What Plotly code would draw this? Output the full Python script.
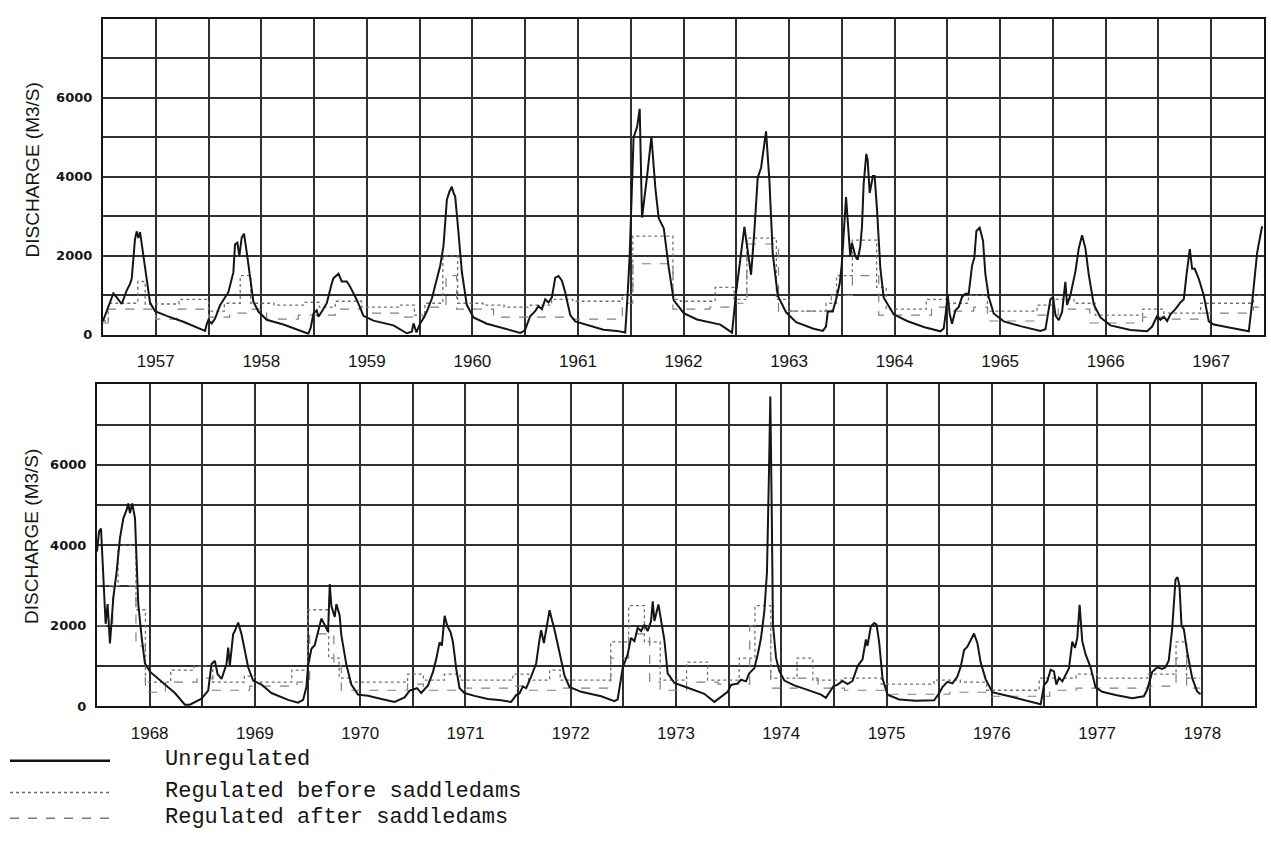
import plotly.graph_objects as go

# ---------------- data ----------------
YEARS_TOP = [1957, 1958, 1959, 1960, 1961, 1962, 1963, 1964, 1965, 1966, 1967]
YEARS_BOT = [1968, 1969, 1970, 1971, 1972, 1973, 1974, 1975, 1976, 1977, 1978]
Y_GRID = [0, 1000, 2000, 3000, 4000, 5000, 6000, 7000, 8000]
Y_LABELS = ["0", "", "2000", "", "4000", "", "6000", "", ""]
Y_TITLE = "DISCHARGE (M3/S)"
LEGEND_NAMES = ["Unregulated", "Regulated before saddledams", "Regulated after saddledams"]

# Unregulated discharge, (decimal year, m3/s)
UNREG_TOP = [
    (1957.000, 350), (1957.035, 620), (1957.098, 1050), (1957.130, 950), (1957.177, 780),
    (1957.224, 1120), (1957.256, 1290), (1957.272, 1420), (1957.303, 2420), (1957.319, 2620),
    (1957.335, 2450), (1957.351, 2600), (1957.382, 2050), (1957.414, 1390), (1957.446, 810),
    (1957.493, 600), (1957.603, 480), (1957.761, 330), (1957.919, 140), (1957.967, 100),
    (1957.983, 270), (1957.998, 370), (1958.030, 290), (1958.062, 410), (1958.109, 750),
    (1958.156, 960), (1958.188, 1080), (1958.235, 1580), (1958.251, 2290), (1958.273, 2330),
    (1958.292, 2000), (1958.314, 2460), (1958.336, 2560), (1958.362, 2090), (1958.393, 1420),
    (1958.425, 840), (1958.472, 590), (1958.551, 380), (1958.709, 260), (1958.867, 100),
    (1958.946, 30), (1958.968, 180), (1958.994, 540), (1959.025, 620), (1959.041, 460),
    (1959.073, 590), (1959.120, 800), (1959.167, 1300), (1959.183, 1430), (1959.215, 1510),
    (1959.231, 1550), (1959.262, 1350), (1959.310, 1350), (1959.341, 1220), (1959.404, 890),
    (1959.468, 480), (1959.562, 360), (1959.752, 240), (1959.878, 40), (1959.926, 80),
    (1959.942, 290), (1959.970, 60), (1960.005, 290), (1960.036, 420), (1960.068, 590),
    (1960.116, 920), (1960.163, 1420), (1960.195, 1750), (1960.226, 2250), (1960.258, 3420),
    (1960.283, 3630), (1960.305, 3750), (1960.321, 3590), (1960.337, 3500), (1960.368, 2590),
    (1960.400, 1590), (1960.447, 760), (1960.510, 440), (1960.637, 280), (1960.795, 170),
    (1960.953, 50), (1960.984, 90), (1961.000, 130), (1961.047, 470), (1961.095, 600),
    (1961.126, 730), (1961.158, 650), (1961.190, 900), (1961.221, 820), (1961.253, 950),
    (1961.285, 1450), (1961.316, 1490), (1961.348, 1370), (1961.379, 1080), (1961.427, 500),
    (1961.474, 340), (1961.584, 260), (1961.742, 130), (1961.869, 100), (1961.948, 60),
    (1961.970, 1000), (1961.990, 2000), (1962.027, 5000), (1962.060, 5260), (1962.085, 5720),
    (1962.107, 2970), (1962.155, 4020), (1962.196, 5020), (1962.234, 3700), (1962.265, 2950),
    (1962.313, 2700), (1962.360, 1710), (1962.407, 880), (1962.502, 550), (1962.628, 390),
    (1962.849, 260), (1962.960, 55), (1962.998, 1060), (1963.077, 2730), (1963.109, 2060),
    (1963.140, 1520), (1963.172, 2650), (1963.203, 3980), (1963.235, 4230), (1963.282, 5150),
    (1963.314, 3900), (1963.345, 2070), (1963.393, 990), (1963.472, 570), (1963.567, 320),
    (1963.725, 160), (1963.820, 100), (1963.850, 210), (1963.867, 590), (1963.914, 590),
    (1963.946, 900), (1963.980, 1300), (1964.000, 1800), (1964.040, 3490), (1964.080, 1990),
    (1964.096, 2330), (1964.128, 1990), (1964.150, 1900), (1964.175, 2240), (1964.191, 2740),
    (1964.207, 3830), (1964.232, 4580), (1964.245, 4420), (1964.264, 3590), (1964.295, 4020),
    (1964.311, 4020), (1964.333, 3190), (1964.365, 1690), (1964.397, 940), (1964.491, 520),
    (1964.618, 350), (1964.776, 200), (1964.934, 90), (1964.965, 160), (1964.984, 530),
    (1965.003, 1030), (1965.022, 530), (1965.044, 280), (1965.076, 620), (1965.107, 700),
    (1965.139, 960), (1965.171, 1040), (1965.202, 1040), (1965.234, 1750), (1965.256, 1960),
    (1965.275, 2630), (1965.306, 2710), (1965.338, 2380), (1965.360, 1540), (1965.392, 960),
    (1965.439, 540), (1965.534, 340), (1965.692, 220), (1965.882, 100), (1965.929, 140),
    (1965.976, 900), (1966.002, 950), (1966.024, 490), (1966.055, 370), (1966.087, 580),
    (1966.118, 1340), (1966.134, 760), (1966.166, 1010), (1966.213, 1600), (1966.245, 2190),
    (1966.276, 2520), (1966.308, 2190), (1966.340, 1520), (1966.387, 770), (1966.450, 440),
    (1966.545, 240), (1966.735, 120), (1966.893, 90), (1966.940, 210), (1966.987, 470),
    (1967.019, 380), (1967.051, 460), (1967.082, 350), (1967.114, 520), (1967.161, 650),
    (1967.208, 820), (1967.240, 900), (1967.265, 1500), (1967.297, 2170), (1967.319, 1670),
    (1967.344, 1670), (1967.382, 1420), (1967.429, 1000), (1967.477, 340), (1967.524, 260),
    (1967.682, 180), (1967.856, 90), (1967.888, 830), (1967.935, 2080), (1967.982, 2750),
]

UNREG_BOT = [
    (1968.000, 3850), (1968.019, 4340), (1968.038, 4420), (1968.060, 3030), (1968.082, 2050),
    (1968.101, 2540), (1968.123, 1560), (1968.155, 2700), (1968.187, 3360), (1968.218, 4180),
    (1968.250, 4670), (1968.281, 4880), (1968.297, 5040), (1968.313, 4800), (1968.335, 5040),
    (1968.361, 4670), (1968.376, 3690), (1968.392, 2540), (1968.424, 1720), (1968.455, 1070),
    (1968.503, 860), (1968.614, 610), (1968.740, 330), (1968.835, 40), (1968.882, 40),
    (1968.993, 190), (1969.056, 390), (1969.088, 1050), (1969.120, 1130), (1969.145, 800),
    (1969.183, 680), (1969.230, 1050), (1969.246, 1460), (1969.262, 1010), (1969.293, 1790),
    (1969.309, 1870), (1969.341, 2080), (1969.373, 1790), (1969.404, 1380), (1969.436, 970),
    (1969.483, 640), (1969.562, 540), (1969.657, 330), (1969.815, 160), (1969.910, 90),
    (1969.958, 160), (1969.990, 490), (1970.005, 1020), (1970.037, 1430), (1970.068, 1520),
    (1970.100, 1850), (1970.132, 2180), (1970.163, 2020), (1970.195, 1850), (1970.211, 3040),
    (1970.226, 2500), (1970.258, 2220), (1970.274, 2540), (1970.305, 2260), (1970.321, 1770),
    (1970.369, 1030), (1970.416, 540), (1970.479, 290), (1970.574, 260), (1970.701, 180),
    (1970.827, 110), (1970.922, 220), (1970.970, 390), (1971.040, 450), (1971.080, 330),
    (1971.144, 520), (1971.191, 850), (1971.223, 1180), (1971.254, 1590), (1971.276, 1510),
    (1971.302, 2250), (1971.327, 2000), (1971.359, 1840), (1971.381, 1600), (1971.412, 940),
    (1971.444, 450), (1971.491, 330), (1971.586, 260), (1971.713, 180), (1971.839, 150),
    (1971.934, 110), (1971.982, 280), (1972.013, 320), (1972.045, 490), (1972.077, 450),
    (1972.124, 740), (1972.172, 1070), (1972.203, 1650), (1972.219, 1890), (1972.245, 1570),
    (1972.267, 1900), (1972.299, 2390), (1972.321, 2150), (1972.346, 1900), (1972.394, 1330),
    (1972.441, 760), (1972.488, 480), (1972.599, 360), (1972.789, 250), (1972.915, 130),
    (1972.946, 175), (1972.994, 960), (1973.041, 1290), (1973.073, 1700), (1973.105, 1620),
    (1973.136, 1950), (1973.168, 1870), (1973.200, 2030), (1973.231, 1870), (1973.263, 2120),
    (1973.279, 2610), (1973.295, 2120), (1973.333, 2530), (1973.358, 2130), (1973.390, 1640),
    (1973.421, 820), (1973.485, 580), (1973.611, 460), (1973.769, 310), (1973.864, 110),
    (1973.927, 230), (1973.991, 360), (1974.022, 530), (1974.086, 570), (1974.117, 660),
    (1974.165, 620), (1974.196, 820), (1974.244, 950), (1974.276, 1280), (1974.307, 1690),
    (1974.339, 2350), (1974.364, 3330), (1974.383, 5800), (1974.396, 7700), (1974.409, 4980),
    (1974.421, 2030), (1974.450, 1210), (1974.481, 880), (1974.529, 640), (1974.624, 520),
    (1974.750, 410), (1974.877, 290), (1974.924, 210), (1974.972, 420), (1974.995, 500),
    (1975.035, 540), (1975.082, 630), (1975.130, 550), (1975.177, 630), (1975.225, 1000),
    (1975.272, 1170), (1975.304, 1660), (1975.319, 1500), (1975.351, 1990), (1975.383, 2070),
    (1975.405, 2030), (1975.430, 1590), (1975.462, 690), (1975.509, 290), (1975.620, 170),
    (1975.778, 140), (1975.952, 150), (1975.999, 320), (1976.031, 480), (1976.078, 610),
    (1976.126, 570), (1976.173, 740), (1976.205, 990), (1976.237, 1400), (1976.268, 1480),
    (1976.300, 1650), (1976.331, 1810), (1976.363, 1570), (1976.395, 1080), (1976.442, 670),
    (1976.505, 350), (1976.695, 230), (1976.885, 110), (1976.964, 50), (1976.996, 530),
    (1977.027, 620), (1977.059, 910), (1977.090, 870), (1977.113, 540), (1977.138, 710),
    (1977.170, 620), (1977.201, 790), (1977.233, 950), (1977.264, 1610), (1977.290, 1450),
    (1977.312, 1700), (1977.334, 2520), (1977.359, 1620), (1977.391, 1290), (1977.438, 970),
    (1977.486, 470), (1977.549, 360), (1977.676, 280), (1977.834, 200), (1977.944, 250),
    (1977.976, 410), (1978.008, 700), (1978.023, 850), (1978.071, 970), (1978.118, 930),
    (1978.150, 970), (1978.181, 1140), (1978.213, 1920), (1978.245, 3150), (1978.264, 3210),
    (1978.283, 2980), (1978.302, 2000), (1978.324, 1920), (1978.356, 1350), (1978.404, 700),
    (1978.450, 370), (1978.483, 300),
]

# Regulated before saddledams (step values)
REGB_TOP = [
    (1957.00, 350), (1957.05, 800), (1957.33, 1350), (1957.40, 780), (1957.72, 900),
    (1958.00, 600), (1958.15, 800), (1958.30, 1500), (1958.40, 800), (1958.62, 750),
    (1958.90, 820), (1959.05, 700), (1959.20, 850), (1959.45, 700), (1959.80, 750),
    (1959.95, 500), (1960.05, 800), (1960.22, 2000), (1960.36, 800), (1960.60, 750),
    (1960.80, 700), (1961.05, 750), (1961.25, 900), (1961.45, 850), (1961.92, 1000),
    (1962.02, 2500), (1962.40, 900), (1962.47, 850), (1962.80, 1200), (1962.98, 900),
    (1963.10, 2450), (1963.38, 900), (1963.50, 600), (1963.85, 800), (1963.95, 1500),
    (1964.10, 2400), (1964.33, 1200), (1964.42, 650), (1964.80, 900), (1965.00, 800),
    (1965.20, 1000), (1965.38, 600), (1965.85, 750), (1966.00, 900), (1966.20, 800),
    (1966.40, 500), (1966.85, 650), (1967.05, 550), (1967.40, 800), (1967.90, 1000),
    (1968.00, 1000),
]
REGB_BOT = [
    (1968.00, 3000), (1968.20, 4000), (1968.37, 2400), (1968.46, 600), (1968.70, 900),
    (1968.92, 1000), (1969.10, 600), (1969.40, 750), (1969.50, 600), (1969.85, 900),
    (1970.00, 2400), (1970.20, 1200), (1970.30, 700), (1970.40, 600), (1970.95, 800),
    (1971.10, 650), (1971.30, 800), (1971.45, 650), (1971.95, 800), (1972.10, 650),
    (1972.30, 900), (1972.40, 650), (1972.88, 1600), (1973.05, 2500), (1973.20, 1600),
    (1973.35, 650), (1973.60, 1100), (1973.80, 650), (1974.10, 1200), (1974.25, 2500),
    (1974.40, 700), (1974.65, 1200), (1974.80, 650), (1975.10, 700), (1975.45, 550),
    (1975.95, 650), (1976.20, 600), (1976.45, 400), (1976.95, 700), (1977.30, 800),
    (1977.50, 700), (1977.98, 800), (1978.25, 1600), (1978.35, 700), (1978.48, 700),
]

# Regulated after saddledams (step values)
REGA_TOP = [
    (1957.00, 300), (1957.05, 650), (1957.40, 650), (1957.50, 400), (1957.70, 650),
    (1958.00, 450), (1958.20, 550), (1958.40, 650), (1958.55, 400), (1958.85, 500),
    (1959.05, 500), (1959.20, 650), (1959.45, 550), (1959.80, 450), (1960.05, 700),
    (1960.25, 1500), (1960.35, 650), (1960.70, 450), (1961.05, 450), (1961.45, 400),
    (1961.92, 800), (1962.02, 1800), (1962.40, 650), (1962.75, 700), (1962.98, 800),
    (1963.10, 2300), (1963.40, 600), (1963.90, 1000), (1964.10, 1500), (1964.35, 500),
    (1964.85, 700), (1965.05, 600), (1965.25, 700), (1965.38, 350), (1965.85, 500),
    (1966.05, 650), (1966.35, 300), (1966.85, 450), (1967.10, 400), (1967.40, 550),
    (1967.90, 700), (1968.00, 700),
]
REGA_BOT = [
    (1968.00, 2000), (1968.15, 3000), (1968.37, 1500), (1968.46, 350), (1968.65, 600),
    (1968.95, 700), (1969.10, 400), (1969.45, 500), (1969.90, 600), (1970.02, 1800),
    (1970.25, 1000), (1970.32, 400), (1970.95, 550), (1971.10, 400), (1971.50, 450),
    (1971.95, 500), (1972.10, 400), (1972.40, 450), (1972.88, 1200), (1973.05, 1800),
    (1973.25, 600), (1973.35, 400), (1973.60, 600), (1973.90, 550), (1974.20, 2000),
    (1974.40, 450), (1974.65, 700), (1974.85, 450), (1975.10, 400), (1975.50, 300),
    (1976.10, 350), (1976.50, 250), (1977.05, 400), (1977.30, 450), (1978.00, 500),
    (1978.25, 1200), (1978.35, 450), (1978.48, 450),
]

# ---------------- figure ----------------
W, H = 1271, 854
GRID = "#303030"
INK = "#151515"


def xs(pairs):
    return [p[0] for p in pairs]


def ys(pairs):
    return [p[1] for p in pairs]


fig = go.Figure()

panels = [
    ("x", "y", UNREG_TOP, REGB_TOP, REGA_TOP),
    ("x2", "y2", UNREG_BOT, REGB_BOT, REGA_BOT),
]
for xa, ya, un, rb, ra in panels:
    fig.add_trace(go.Scatter(x=xs(rb), y=ys(rb), xaxis=xa, yaxis=ya, mode="lines",
                             line=dict(color="#707070", width=1.3, dash="dot", shape="hv"),
                             name=LEGEND_NAMES[1]))
    fig.add_trace(go.Scatter(x=xs(ra), y=ys(ra), xaxis=xa, yaxis=ya, mode="lines",
                             line=dict(color="#808080", width=1.2, dash="dash", shape="hv"),
                             name=LEGEND_NAMES[2]))
    fig.add_trace(go.Scatter(x=xs(un), y=ys(un), xaxis=xa, yaxis=ya, mode="lines",
                             line=dict(color=INK, width=2), name=LEGEND_NAMES[0]))


def xaxis_cfg(years, domain):
    vals, text = [], []
    for yr in years:
        vals += [yr, yr + 0.5]
        text += ["", str(yr)]
    vals.append(years[-1] + 1)
    text.append("")
    return dict(domain=domain, range=[years[0], years[-1] + 1], tickvals=vals, ticktext=text,
                showgrid=True, gridcolor=GRID, gridwidth=1.8, zeroline=False,
                showline=True, mirror=True, linecolor=INK, linewidth=2.2, ticks="",
                tickfont=dict(family="Liberation Sans", size=17, color=INK),
                ticklabelstandoff=10, fixedrange=True)


def yaxis_cfg(domain, anchor):
    return dict(domain=domain, range=[0, 8000], tickvals=Y_GRID, ticktext=Y_LABELS,
                showgrid=True, gridcolor=GRID, gridwidth=1.8, zeroline=False,
                showline=True, mirror=True, linecolor=INK, linewidth=2.2, ticks="",
                tickfont=dict(family="DejaVu Sans", size=13, color=INK, weight="bold"),
                ticklabelstandoff=6, anchor=anchor, fixedrange=True)


fig.update_layout(
    width=W, height=H,
    margin=dict(l=0, r=0, t=0, b=0),
    paper_bgcolor="white", plot_bgcolor="white",
    showlegend=False,
    xaxis=dict(anchor="y", **xaxis_cfg(YEARS_TOP, [103 / W, 1264 / W])),
    yaxis=yaxis_cfg([1 - 338 / H, 1 - 19 / H], "x"),
    xaxis2=dict(anchor="y2", **xaxis_cfg(YEARS_BOT, [97 / W, 1255 / W])),
    yaxis2=yaxis_cfg([1 - 713 / H, 1 - 388 / H], "x2"),
)

# axis titles
for ycen in (172, 542):
    fig.add_annotation(text=Y_TITLE, xref="paper", yref="paper", x=32 / W, y=1 - ycen / H,
                       textangle=-90, showarrow=False, xanchor="center", yanchor="middle",
                       font=dict(family="Liberation Sans", size=19, color=INK))

# legend (drawn below the lower panel)
legend_rows = [(768, "solid", INK, 2.4), (800, "dot", "#6a6a6a", 1.6), (826, "dash", "#7a7a7a", 1.6)]
for (yy, dash, col, wd), name in zip(legend_rows, LEGEND_NAMES):
    fig.add_shape(type="line", xref="paper", yref="paper", x0=10 / W, x1=110 / W,
                  y0=1 - yy / H, y1=1 - yy / H, line=dict(color=col, width=wd, dash=dash))
    fig.add_annotation(text=name, xref="paper", yref="paper", x=163 / W, y=1 - (yy - 1) / H,
                       showarrow=False, xanchor="left", yanchor="middle",
                       font=dict(family="Liberation Mono", size=22, color=INK))

fig.write_html("out.html")
